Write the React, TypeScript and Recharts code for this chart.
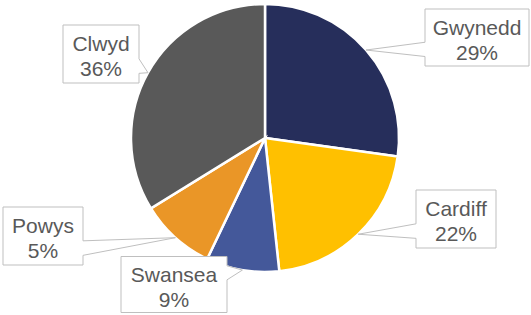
import React from 'react';
import { PieChart, Pie, Cell } from 'recharts';

const regions = ['Gwynedd', 'Cardiff', 'Swansea', 'Powys', 'Clwyd'];
const shares = [27.2, 21.1, 8.8, 9.1, 33.8];
const percentLabels = ['29%', '22%', '9%', '5%', '36%'];
const colors = ['#262E5B', '#FFC000', '#44589A', '#EA9627', '#595959'];

// callout box layout: centre offset from pie centre, box size
const boxLayout = [
  { dx: 212, dy: -100.5, w: 104, h: 57 },
  { dx: 191, dy: 81, w: 80, h: 58 },
  { dx: -91, dy: 146.5, w: 106, h: 56 },
  { dx: -222, dy: 98, w: 80, h: 58 },
  { dx: -164, dy: -84, w: 76, h: 58 },
];

const data = regions.map((name, i) => ({ name, value: shares[i], pct: percentLabels[i] }));

const RAD = Math.PI / 180;

function CalloutLabel(props: any) {
  const { cx, cy, midAngle, outerRadius, index } = props;
  const tipX = cx + outerRadius * Math.cos(-midAngle * RAD);
  const tipY = cy + outerRadius * Math.sin(-midAngle * RAD);
  const b = boxLayout[index];
  const bx = cx + b.dx;
  const by = cy + b.dy;
  const x0 = bx - b.w / 2;
  const x1 = bx + b.w / 2;
  const y0 = by - b.h / 2;
  const y1 = by + b.h / 2;
  const dxPos = (tipX - bx) / b.w;
  const dyPos = (tipY - by) / b.h;
  let d: string;
  if (Math.abs(dxPos) > Math.abs(dyPos)) {
    const ya = y0 + (b.h * (dyPos > 0 ? 7 : 2)) / 12;
    const yb = y0 + (b.h * (dyPos > 0 ? 10 : 5)) / 12;
    if (dxPos < 0) {
      d = `M${x0},${y0} L${x1},${y0} L${x1},${y1} L${x0},${y1} L${x0},${yb} L${tipX},${tipY} L${x0},${ya} Z`;
    } else {
      d = `M${x0},${y0} L${x1},${y0} L${x1},${ya} L${tipX},${tipY} L${x1},${yb} L${x1},${y1} L${x0},${y1} Z`;
    }
  } else {
    const xa = x0 + (b.w * (dxPos > 0 ? 7 : 2)) / 12;
    const xb = x0 + (b.w * (dxPos > 0 ? 10 : 5)) / 12;
    if (dyPos < 0) {
      d = `M${x0},${y0} L${xa},${y0} L${tipX},${tipY} L${xb},${y0} L${x1},${y0} L${x1},${y1} L${x0},${y1} Z`;
    } else {
      d = `M${x0},${y0} L${x1},${y0} L${x1},${y1} L${xb},${y1} L${tipX},${tipY} L${xa},${y1} L${x0},${y1} Z`;
    }
  }
  return (
    <g>
      <path d={d} fill="#FFFFFF" stroke="#BFBFBF" strokeWidth={1} />
      <text
        x={bx}
        textAnchor="middle"
        fill="#595959"
        fontFamily="'Liberation Sans', Arial, sans-serif"
        fontSize={21}
      >
        <tspan x={bx} y={by - 3}>{regions[index]}</tspan>
        <tspan x={bx} y={by + 22}>{percentLabels[index]}</tspan>
      </text>
    </g>
  );
}

export default function App() {
  return (
    <div style={{ position: 'absolute', left: 0, top: 0, background: '#fff' }}>
      <PieChart width={531} height={315} margin={{ top: 0, right: 0, bottom: 0, left: 0 }}>
        <Pie
          data={data}
          dataKey="value"
          nameKey="name"
          cx={265}
          cy={138}
          outerRadius={134}
          startAngle={90}
          endAngle={-270}
          stroke="#FFFFFF"
          strokeWidth={2.5}
          label={CalloutLabel}
          labelLine={false}
          isAnimationActive={false}
        >
          {data.map((d, i) => (
            <Cell key={d.name} fill={colors[i]} />
          ))}
        </Pie>
      </PieChart>
    </div>
  );
}
